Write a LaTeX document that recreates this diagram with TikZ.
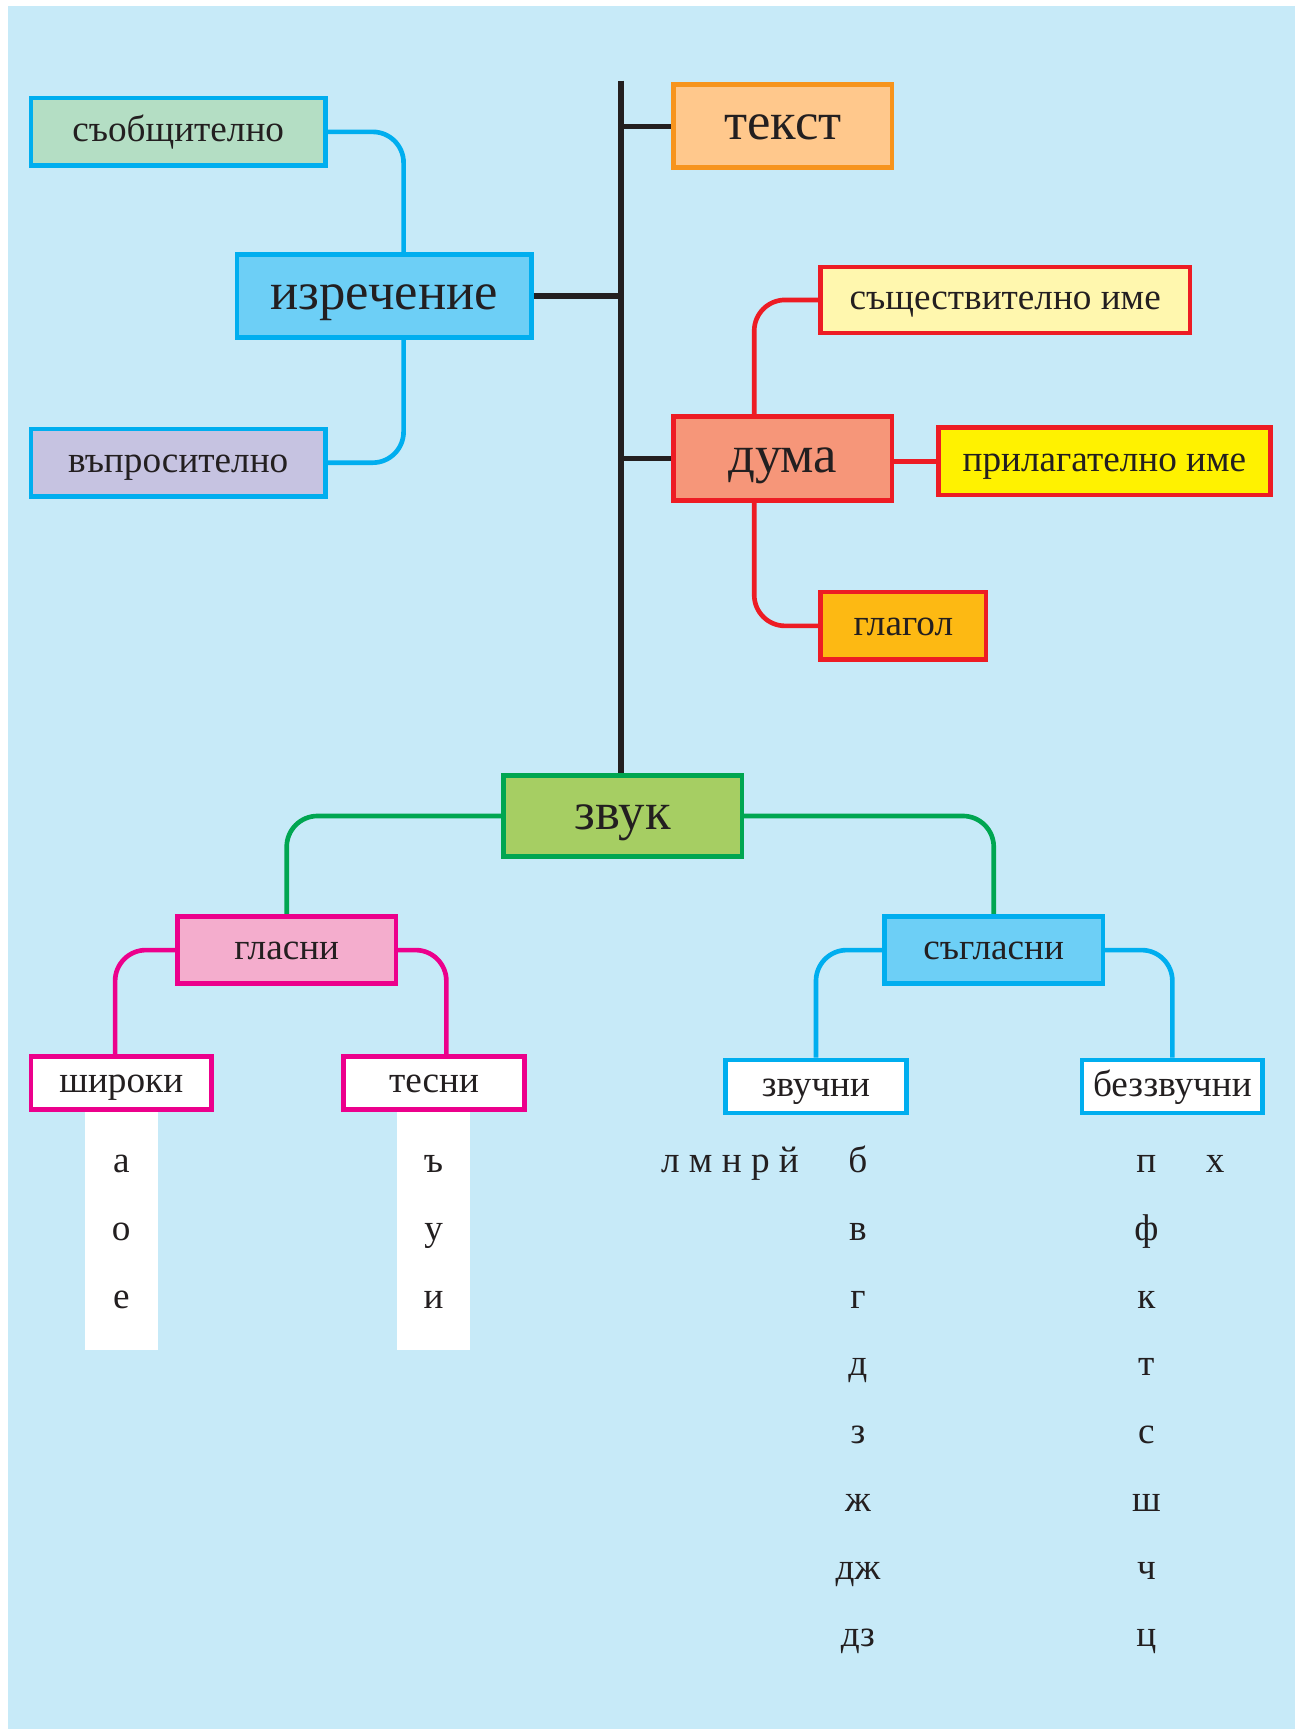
\documentclass[tikz,border=0pt]{standalone}
\usepackage{fontspec}
\setmainfont{Liberation Serif}
\usepackage{xcolor}
\usetikzlibrary{backgrounds}

\definecolor{fon}{HTML}{C7EAF8}
\definecolor{tekstcv}{HTML}{231F20}
\definecolor{sinyo}{HTML}{00AEEF}
\definecolor{cherveno}{HTML}{ED1C24}
\definecolor{oranzhevo}{HTML}{F7941D}
\definecolor{zeleno}{HTML}{00A651}
\definecolor{rozovo}{HTML}{EC008C}
\definecolor{soobfill}{HTML}{B4DEC4}
\definecolor{izrfill}{HTML}{6DCFF6}
\definecolor{voprfill}{HTML}{C6C3E1}
\definecolor{tekstfill}{HTML}{FFC88C}
\definecolor{sashtfill}{HTML}{FFF7AE}
\definecolor{dumafill}{HTML}{F69679}
\definecolor{prilfill}{HTML}{FFF200}
\definecolor{glagolfill}{HTML}{FDB913}
\definecolor{zvukfill}{HTML}{A6CE63}
\definecolor{glasnifill}{HTML}{F4ADCD}

\begin{document}
\begin{tikzpicture}[
  kutia/.style={draw, line width=3pt, inner sep=0pt, text=tekstcv},
  malka/.style={font=\fontsize{24}{28}\selectfont, text height=16.3pt, text depth=3.6pt},
  golyama/.style={font=\fontsize{34}{40}\selectfont, text height=23pt, text depth=5.5pt},
  vrazka/.style={line width=3pt, rounded corners=0.7cm},
  bukva/.style={anchor=base, inner sep=0pt, text=tekstcv, font=\fontsize{24}{28}\selectfont},
]
  \useasboundingbox (0,0) rectangle (29.35,-39.2);

  % izrechenie
  \node[kutia, malka, fill=soobfill, draw=sinyo, minimum width=6.68cm, minimum height=1.53cm] (soob) at (4.04,-2.99) {съобщително};
  \node[kutia, golyama, fill=izrfill, draw=sinyo, minimum width=6.68cm, minimum height=1.88cm] (izr) at (8.71,-6.71) {изречение};
  \node[kutia, malka, fill=voprfill, draw=sinyo, minimum width=6.68cm, minimum height=1.53cm] (vopr) at (4.04,-10.49) {въпросително};
  % tekst i duma
  \node[kutia, golyama, fill=tekstfill, draw=oranzhevo, minimum width=4.95cm, minimum height=1.88cm] (tekst) at (17.75,-2.86) {текст};
  \node[kutia, malka, fill=sashtfill, draw=cherveno, minimum width=8.38cm, minimum height=1.5cm] (sasht) at (22.79,-6.80) {съществително име};
  \node[kutia, golyama, fill=dumafill, draw=cherveno, minimum width=4.95cm, minimum height=1.9cm] (duma) at (17.75,-10.40) {дума};
  \node[kutia, malka, fill=prilfill, draw=cherveno, minimum width=7.53cm, minimum height=1.53cm] (pril) at (25.04,-10.46) {прилагателно име};
  \node[kutia, malka, fill=glagolfill, draw=cherveno, minimum width=3.75cm, minimum height=1.53cm] (glagol) at (20.48,-14.19) {глагол};
  % zvuk
  \node[kutia, golyama, fill=zvukfill, draw=zeleno, minimum width=5.4cm, minimum height=1.85cm] (zvuk) at (14.12,-18.5) {звук};
  \node[kutia, malka, fill=glasnifill, draw=rozovo, minimum width=4.95cm, minimum height=1.53cm] (glasni) at (6.5,-21.54) {гласни};
  \node[kutia, malka, fill=izrfill, draw=sinyo, minimum width=4.95cm, minimum height=1.53cm] (sagl) at (22.53,-21.54) {съгласни};
  \node[kutia, malka, fill=white, draw=rozovo, minimum width=4.1cm, minimum height=1.2cm] (shir) at (2.75,-24.55) {широки};
  \node[kutia, malka, fill=white, draw=rozovo, minimum width=4.1cm, minimum height=1.2cm] (tesni) at (9.84,-24.55) {тесни};
  \node[kutia, malka, fill=white, draw=sinyo, minimum width=4.1cm, minimum height=1.2cm] (zvuchni) at (18.5,-24.63) {звучни};
  \node[kutia, malka, fill=white, draw=sinyo, minimum width=4.1cm, minimum height=1.2cm] (bezzv) at (26.58,-24.63) {беззвучни};

  % bukvi
  \foreach \b [count=\i] in {а,о,е}
    \node[bukva] (shir\i) at (2.75,{-26.59-1.535*(\i-1)}) {\b};
  \foreach \b [count=\i] in {ъ,у,и}
    \node[bukva] (tesni\i) at (9.83,{-26.59-1.535*(\i-1)}) {\b};
  \foreach \b [count=\i] in {б,в,г,д,з,ж,дж,дз}
    \node[bukva] (zv\i) at (19.45,{-26.59-1.535*(\i-1)}) {\b};
  \foreach \b [count=\i] in {п,ф,к,т,с,ш,ч,ц}
    \node[bukva] (bz\i) at (25.99,{-26.59-1.535*(\i-1)}) {\b};
  \node[bukva] (sonorni) at (16.55,-26.59) {л м н р й};
  \node[bukva] (hh) at (27.55,-26.59) {х};

  \begin{pgfonlayer}{background}
    % platno
    \fill[white] (0,0) rectangle (29.35,-39.2);
    \fill[fon] (0.18,-0.135) rectangle (29.35,-39.2);
    % beli ivici pod shiroki i tesni
    \fill[white] (1.925,-25.15) rectangle (3.575,-30.6);
    \fill[white] (9.0,-25.15) rectangle (10.65,-30.6);
    % stvol
    \coordinate (stvol) at (14.08,-1.83);
    \draw[line width=3.3pt, tekstcv] (stvol) -- (stvol |- zvuk.north);
    \draw[line width=3.3pt, tekstcv] (tekst.west) -- (tekst.west -| stvol);
    \draw[line width=3.3pt, tekstcv] (izr.east) -- (izr.east -| stvol);
    \draw[line width=3.3pt, tekstcv] (duma.west) -- (duma.west -| stvol);
    % vrazki
    \draw[vrazka, sinyo] (soob.east) -| ([xshift=0.44cm]izr.north);
    \draw[vrazka, sinyo] (vopr.east) -| ([xshift=0.44cm]izr.south);
    \draw[vrazka, cherveno] (sasht.west) -| ([xshift=-0.65cm]duma.north);
    \draw[vrazka, cherveno] (glagol.west) -| ([xshift=-0.65cm]duma.south);
    \draw[vrazka, cherveno] (pril.west) -- (pril.west -| duma.east);
    \draw[vrazka, zeleno] (zvuk.west) -| (glasni.north);
    \draw[vrazka, zeleno] (zvuk.east) -| (sagl.north);
    \draw[vrazka, rozovo] (glasni.west) -| ([xshift=-0.14cm]shir.north);
    \draw[vrazka, rozovo] (glasni.east) -| ([xshift=0.28cm]tesni.north);
    \draw[vrazka, sinyo] (sagl.west) -| (zvuchni.north);
    \draw[vrazka, sinyo] (sagl.east) -| (bezzv.north);
  \end{pgfonlayer}
\end{tikzpicture}
\end{document}
